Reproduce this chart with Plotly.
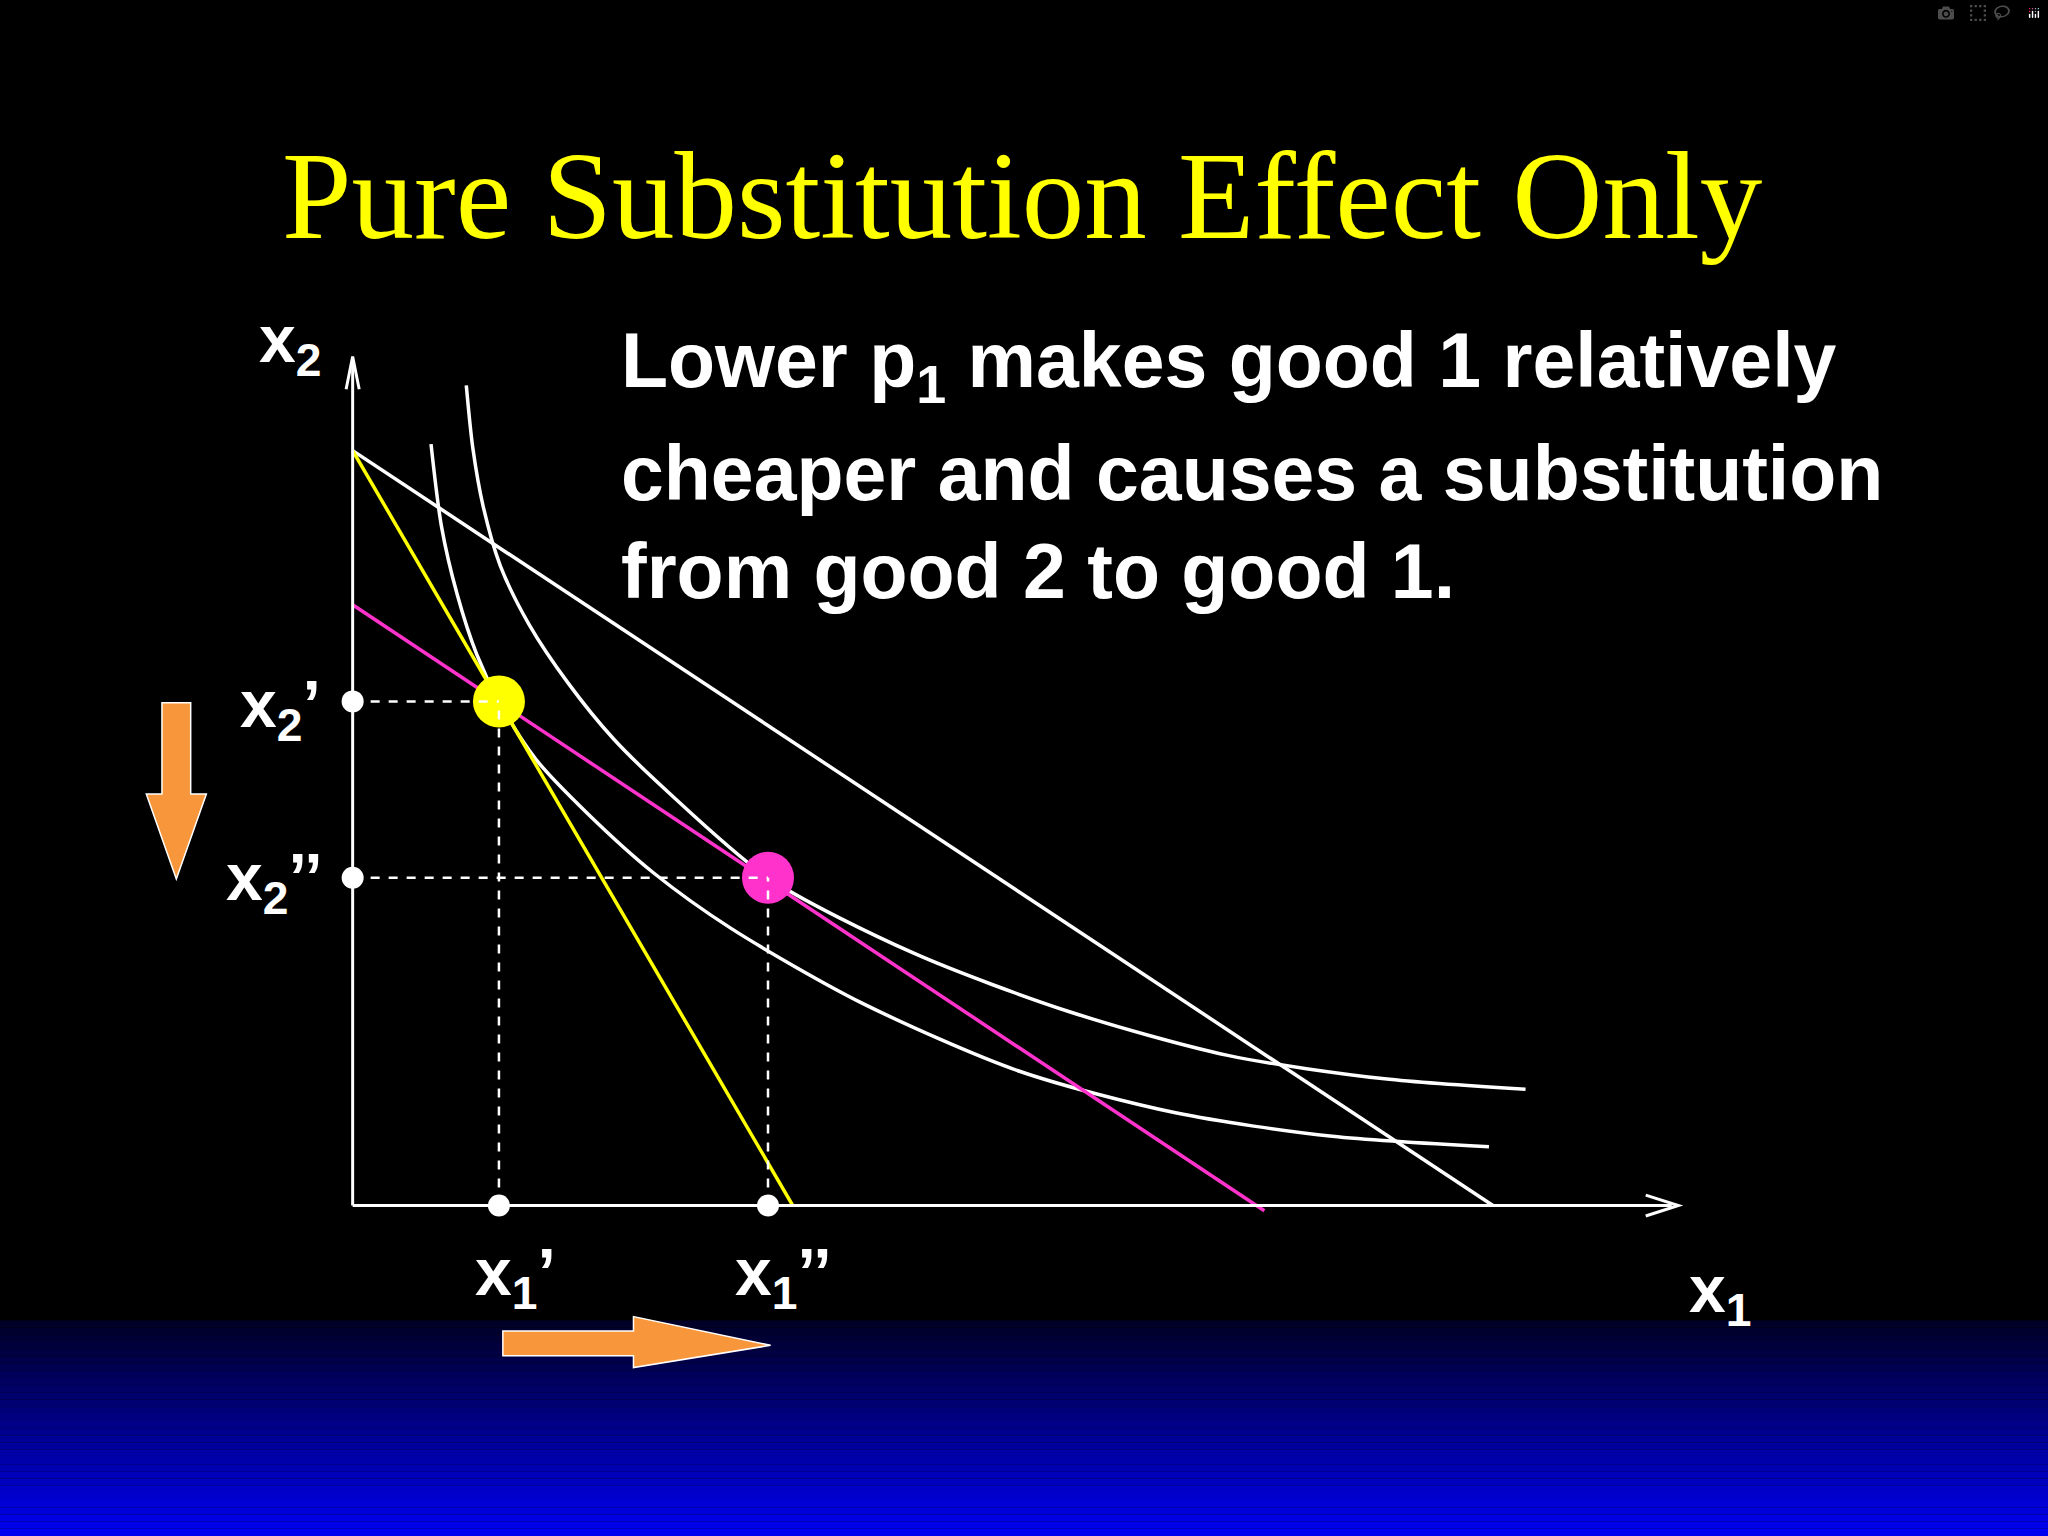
import plotly.graph_objects as go

# diagram data (x1, x2) in chart units, origin at the axes corner
budget_old_x = [0, 337]
budget_old_y = [578, 0]
budget_new_x = [0, 873]
budget_new_y = [578, 0]
budget_comp_x = [0, 698]
budget_comp_y = [460, -4]

ic_inner_x = [60, 68, 80, 95, 112, 140, 180, 230, 290, 390, 510, 630, 750, 870]
ic_inner_y = [583, 520, 468, 422, 386, 342, 300, 255, 212, 155, 103, 71, 53, 45]
ic_outer_x = [87, 92, 100, 113, 135, 165, 200, 240, 318, 430, 550, 670, 790, 898]
ic_outer_y = [628, 580, 535, 490, 445, 400, 357, 318, 251, 193, 148, 115, 97, 89]

x1_a, x2_a = 112, 386   # original bundle
x1_b, x2_b = 318, 251   # substitution bundle

X0, Y0 = -270, -253
XR = [X0, X0 + 1568]
YR = [Y0, Y0 + 1176]

fig = go.Figure()

# background gradient (black -> blue at bottom)
shapes = []
n = 30
for i in range(n):
    t = i / (n - 1)
    y_top = YR[0] + 165 * (1 - i / n)
    y_bot = YR[0] + 165 * (1 - (i + 1) / n)
    b = int(40 + 200 * t)
    shapes.append(dict(type="rect", xref="x", yref="y", x0=XR[0], x1=XR[1],
                       y0=y_bot, y1=y_top, fillcolor=f"rgb(0,0,{b})",
                       line=dict(width=0), layer="below"))

# dashed guides
for (xx, yy) in [(x1_a, x2_a), (x1_b, x2_b)]:
    shapes.append(dict(type="line", xref="x", yref="y", x0=0, y0=yy, x1=xx, y1=yy,
                       line=dict(color="white", width=2.5, dash="dash")))
    shapes.append(dict(type="line", xref="x", yref="y", x0=xx, y0=0, x1=xx, y1=yy,
                       line=dict(color="white", width=2.5, dash="dash")))

# axes
shapes.append(dict(type="line", xref="x", yref="y", x0=0, y0=0, x1=1010, y1=0,
                   line=dict(color="white", width=3)))
shapes.append(dict(type="line", xref="x", yref="y", x0=0, y0=0, x1=0, y1=645,
                   line=dict(color="white", width=3)))
shapes.append(dict(type="path", xref="x", yref="y",
                   path="M 990 8 L 1015 0 L 990 -8", line=dict(color="white", width=3)))
shapes.append(dict(type="path", xref="x", yref="y",
                   path="M -5 625 L 0 650 L 5 625", line=dict(color="white", width=3)))

# orange arrows
orange = "#F7963A"
shapes.append(dict(type="path", xref="x", yref="y",
                   path="M -146 385 L -124 385 L -124 315 L -112 315 L -135 250 L -158 315 L -146 315 Z",
                   fillcolor=orange, line=dict(color="white", width=1.5)))
shapes.append(dict(type="path", xref="x", yref="y",
                   path="M 115 -96 L 215 -96 L 215 -85 L 320 -107 L 215 -124 L 215 -115 L 115 -115 Z",
                   fillcolor=orange, line=dict(color="white", width=1.5)))

fig.add_trace(go.Scatter(x=ic_inner_x, y=ic_inner_y, mode="lines",
                         line=dict(color="white", width=3.5, shape="spline", smoothing=0.8)))
fig.add_trace(go.Scatter(x=ic_outer_x, y=ic_outer_y, mode="lines",
                         line=dict(color="white", width=3.5, shape="spline", smoothing=0.8)))
fig.add_trace(go.Scatter(x=budget_new_x, y=budget_new_y, mode="lines",
                         line=dict(color="white", width=3.5)))
fig.add_trace(go.Scatter(x=budget_old_x, y=budget_old_y, mode="lines",
                         line=dict(color="#FFFF00", width=3.5)))
fig.add_trace(go.Scatter(x=budget_comp_x, y=budget_comp_y, mode="lines",
                         line=dict(color="#FF33CC", width=3.5)))
fig.add_trace(go.Scatter(x=[0, 0, x1_a, x1_b], y=[x2_a, x2_b, 0, 0], mode="markers",
                         marker=dict(color="white", size=22)))
fig.add_trace(go.Scatter(x=[x1_a], y=[x2_a], mode="markers",
                         marker=dict(color="#FFFF00", size=52)))
fig.add_trace(go.Scatter(x=[x1_b], y=[x2_b], mode="markers",
                         marker=dict(color="#FF33CC", size=52)))

lab = dict(family="Liberation Sans", size=66, color="white")
body = dict(family="Liberation Sans", size=77, color="white")
ann = []
def add(x, y, text, **kw):
    d = dict(x=x, y=y, xref="x", yref="y", text=text, showarrow=False, font=lab)
    d.update(kw)
    ann.append(d)

add(-48, 660, "<b>x<sub>2</sub></b>")
add(-55, 380, "<b>x<sub>2</sub>’</b>")
add(-60, 248, "<b>x<sub>2</sub>’’</b>")
add(125, -55, "<b>x<sub>1</sub>’</b>")
add(330, -55, "<b>x<sub>1</sub>’’</b>")
add(1047, -68, "<b>x<sub>1</sub></b>")
add(204, 643, "<b>Lower p<sub>1</sub> makes good 1 relatively</b>", xanchor="left", font=body)
add(204, 561, "<b>cheaper and causes a substitution</b>", xanchor="left", font=body)
add(204, 486, "<b>from good 2 to good 1.</b>", xanchor="left", font=body)
add(513, 773, "Pure Substitution Effect Only",
    font=dict(family="Liberation Serif", size=125, color="#FFFF00"))

fig.update_layout(width=2048, height=1536, margin=dict(l=0, r=0, t=0, b=0),
                  paper_bgcolor="black", plot_bgcolor="black", showlegend=False,
                  shapes=shapes, annotations=ann,
                  xaxis=dict(range=XR, visible=False, fixedrange=True),
                  yaxis=dict(range=YR, visible=False, fixedrange=True))
fig.write_html("out.html",
               post_script="document.body.style.margin='0';document.body.style.background='black';")
